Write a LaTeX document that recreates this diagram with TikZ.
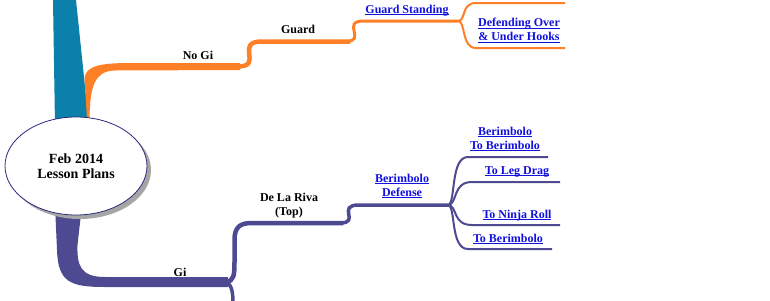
\documentclass[tikz,border=0pt]{standalone}
\usepackage{fontspec}
\setmainfont{Liberation Serif}
\usetikzlibrary{shapes.geometric}
\definecolor{nogiorange}{HTML}{FF7F27}
\definecolor{topteal}{HTML}{0A80AA}
\definecolor{gipurple}{HTML}{4D4A92}
\definecolor{linkblue}{HTML}{1010E0}
\definecolor{rimnavy}{HTML}{2A2A80}
\newsavebox{\lnkbox}
\newcommand{\lnk}[1]{\sbox{\lnkbox}{#1}\rlap{\rule[-1.8pt]{\wd\lnkbox}{0.9pt}}\usebox{\lnkbox}}

\begin{document}
\begin{tikzpicture}[x=1pt,y=-1pt,
  topic/.style={font=\fontsize{12}{14}\selectfont\bfseries,align=center,inner sep=0pt,anchor=base},
  linktopic/.style={topic,text=linkblue},
  orangeline/.style={draw=nogiorange},
  purpleline/.style={draw=gipurple}]
  \useasboundingbox (0,0) rectangle (770,300);
  % trunk going up out of the picture
  \fill[topteal] (53,0) -- (76,0) -- (89,125) -- (55,125) -- cycle;
  % No Gi branch (orange)
  \fill[nogiorange] (84.5,78) .. controls (86,66) and (100,63) .. (130,63) -- (240,63)
    -- (240,70) -- (115,70.5) .. controls (95,71) and (90,85) .. (89.5,119) -- (87,119) -- cycle;
  \coordinate (guardstart) at (238,66.5);
  \coordinate (gstandstart) at (345,41.5);
  \coordinate (gstandjoin) at (458,21);
  \draw[orangeline,line width=4.5] (guardstart) .. controls (264,66.5) and (234,41.5) .. (262,41.5) -- (350,41.5);
  \draw[orangeline,line width=3] (gstandstart) .. controls (368,41.5) and (340,21) .. (364,21) -- (gstandjoin);
  \draw[orangeline,line width=2] (gstandjoin) .. controls (466,21) and (461,3) .. (476,3) -- (565,3);
  \draw[orangeline,line width=2] (gstandjoin) .. controls (466,21) and (461,48) .. (476,48) -- (565,48);
  % Gi branch (purple)
  \fill[gipurple] (55,205) -- (57,250) .. controls (58,282) and (70,287) .. (105,287) -- (228,287)
    -- (228,277) -- (105,277) .. controls (80,277) and (77,265) .. (77.5,245) -- (82,205) -- cycle;
  \coordinate (gijoin) at (226,282);
  \coordinate (dlrstart) at (340,223);
  \coordinate (bdjoin) at (448,205);
  \draw[purpleline,line width=4.5] (gijoin) .. controls (234,281) and (234.5,275) .. (234.5,262) -- (234.5,240)
    .. controls (234.5,227) and (240,223) .. (252,223) -- (343,223);
  \draw[purpleline,line width=3.5] (gijoin) .. controls (232,285) and (233,292) .. (233,305);
  \draw[purpleline,line width=3.5] (dlrstart) .. controls (361,223) and (336,205) .. (359,205) -- (bdjoin);
  \draw[purpleline,line width=2] (bdjoin) .. controls (456,204) and (450,157) .. (468,157) -- (548,157);
  \draw[purpleline,line width=2] (bdjoin) .. controls (458,204) and (452,182) .. (472,182) -- (560,182);
  \draw[purpleline,line width=2] (bdjoin) .. controls (458,206) and (452,225) .. (472,225) -- (560,225);
  \draw[purpleline,line width=2] (bdjoin) .. controls (456,206) and (450,249) .. (468,249) -- (552,249);
  % central topic
  \fill[black!35] (80,170) ellipse [x radius=71,y radius=49];
  \node[ellipse,draw=rimnavy,fill=white,line width=0.8,minimum width=142,minimum height=98,
    inner sep=0pt,font=\fontsize{14}{15}\selectfont\bfseries,align=center] (center) at (76,166)
    {Feb 2014\\Lesson Plans};
  % labels
  \node[topic] (nogi) at (198,59) {No Gi};
  \node[topic] (guard) at (298,33) {Guard};
  \node[linktopic] (gstand) at (407,13) {\lnk{Guard Standing}};
  \node[linktopic] (hooks) at (519,40.7) {\lnk{Defending Over}\\\lnk{\& Under Hooks}};
  \node[topic] (gi) at (180,276) {Gi};
  \node[topic] (dlr) at (289,215) {De La Riva\\(Top)};
  \node[linktopic] (bdef) at (402,196) {\lnk{Berimbolo}\\\lnk{Defense}};
  \node[linktopic] (btob) at (505,149) {\lnk{Berimbolo}\\\lnk{To Berimbolo}};
  \node[linktopic] (legdrag) at (517,174.5) {\lnk{To Leg Drag}};
  \node[linktopic] (ninja) at (517,218) {\lnk{To Ninja Roll}};
  \node[linktopic] (tober) at (508,242) {\lnk{To Berimbolo}};
\end{tikzpicture}
\end{document}
